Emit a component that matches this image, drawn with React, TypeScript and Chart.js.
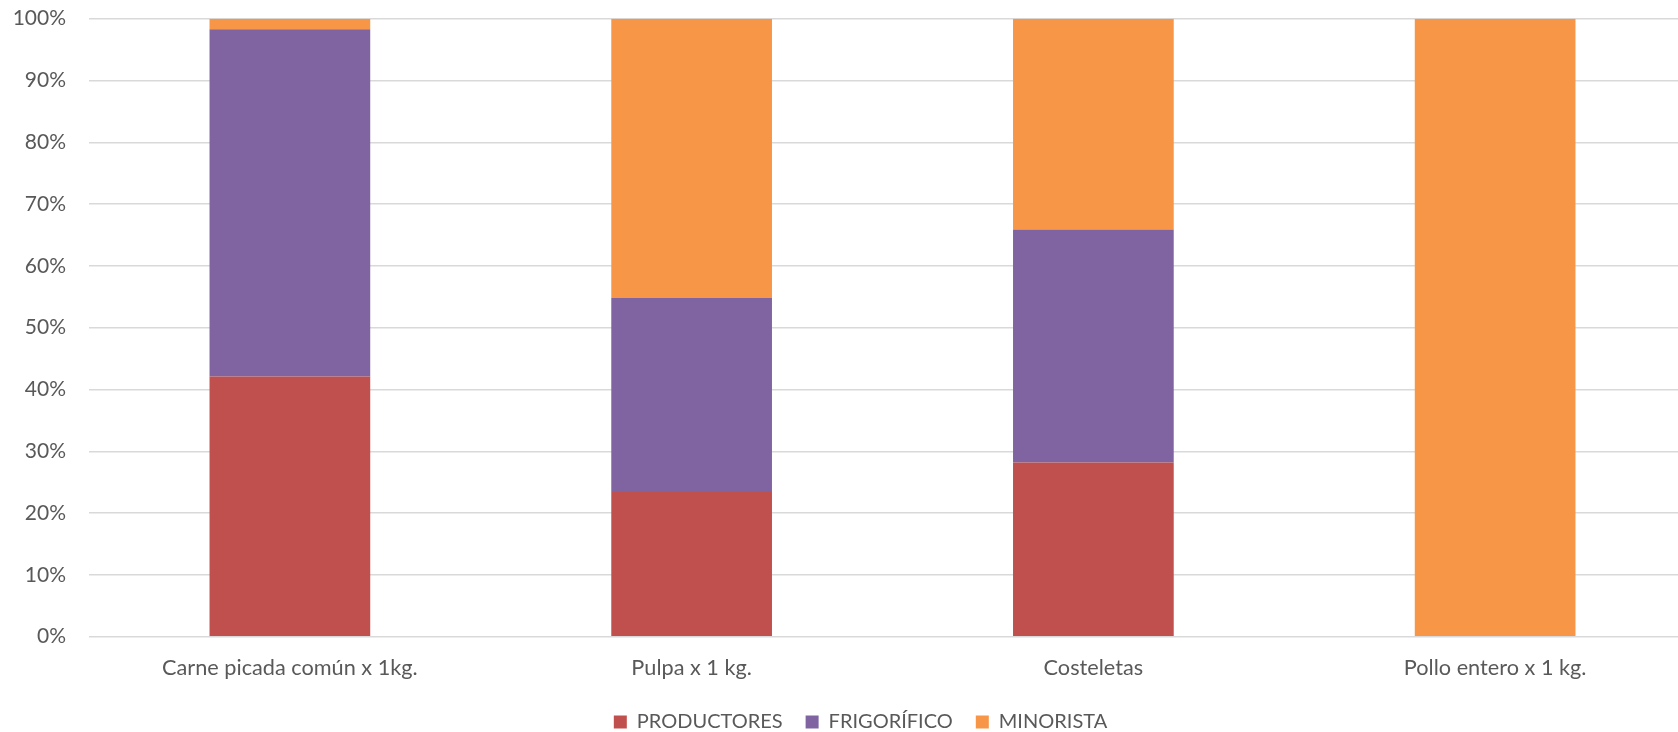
import React, { useEffect, useRef } from "react";
import { Chart, registerables } from "chart.js";

Chart.register(...registerables);

const categories = ["Carne picada común x 1kg.", "Pulpa x 1 kg.", "Costeletas", "Pollo entero x 1 kg."];
const productores = [42.1, 23.4, 28.2, 0];
const frigorifico = [56.2, 31.4, 37.7, 0];
const minorista = [1.7, 45.2, 34.1, 100];
const yTicks = [0, 10, 20, 30, 40, 50, 60, 70, 80, 90, 100];

const FONT = "Lato, 'Open Sans', sans-serif";
const TEXT = "#595959";
const Y_FONT_SIZE = 21;

function measureWidest(labels: string[], size: number): number {
  const c = document.createElement("canvas");
  const ctx = c.getContext("2d");
  if (!ctx) return 50;
  ctx.font = `normal ${size}px ${FONT}`;
  return Math.max(...labels.map((l) => ctx.measureText(l).width));
}

export default function App() {
  const ref = useRef<HTMLCanvasElement | null>(null);

  useEffect(() => {
    if (!ref.current) return;
    const widest = measureWidest(yTicks.map((v) => v + "%"), Y_FONT_SIZE);
    const chart = new Chart(ref.current, {
      type: "bar",
      data: {
        labels: categories,
        datasets: [
          { label: "PRODUCTORES", data: productores, backgroundColor: "#C0504D", borderWidth: 0 },
          { label: "FRIGORÍFICO", data: frigorifico, backgroundColor: "#8064A2", borderWidth: 0 },
          { label: "MINORISTA", data: minorista, backgroundColor: "#F79646", borderWidth: 0 },
        ],
      },
      options: {
        responsive: false,
        animation: false,
        layout: { padding: { left: 25, right: 0, top: 18.7, bottom: -10 } },
        datasets: { bar: { categoryPercentage: 1, barPercentage: 0.4 } },
        plugins: {
          tooltip: { enabled: false },
          legend: {
            position: "bottom",
            labels: {
              boxWidth: 13,
              boxHeight: 13,
              padding: 23,
              color: TEXT,
              font: { family: FONT, size: 20 },
            },
          },
        },
        scales: {
          x: {
            stacked: true,
            grid: { display: false, drawTicks: false },
            border: { display: false },
            ticks: { color: TEXT, font: { family: FONT, size: 21.7 }, padding: 18.5, maxRotation: 0, autoSkip: false },
            afterFit: (s: any) => {
              s.height = 52.3;
            },
          },
          y: {
            stacked: true,
            min: 0,
            max: 100,
            grid: { color: "#D9D9D9", lineWidth: 1.5, drawTicks: false },
            border: { display: false },
            afterBuildTicks: (s: any) => {
              s.ticks = yTicks.map((v) => ({ value: v }));
            },
            ticks: {
              color: TEXT,
              font: { family: FONT, size: Y_FONT_SIZE },
              mirror: true,
              crossAlign: "far",
              padding: -23 - widest,
              callback: (v: any) => v + "%",
            },
            afterFit: (s: any) => {
              s.width = 64;
            },
          },
        },
      },
    });
    return () => chart.destroy();
  }, []);

  return (
    <div style={{ position: "absolute", left: 0, top: 0, width: 1678, height: 732, overflow: "hidden", background: "#fff" }}>
      <canvas ref={ref} width={1696} height={732} style={{ width: 1696, height: 732, display: "block" }} />
    </div>
  );
}
